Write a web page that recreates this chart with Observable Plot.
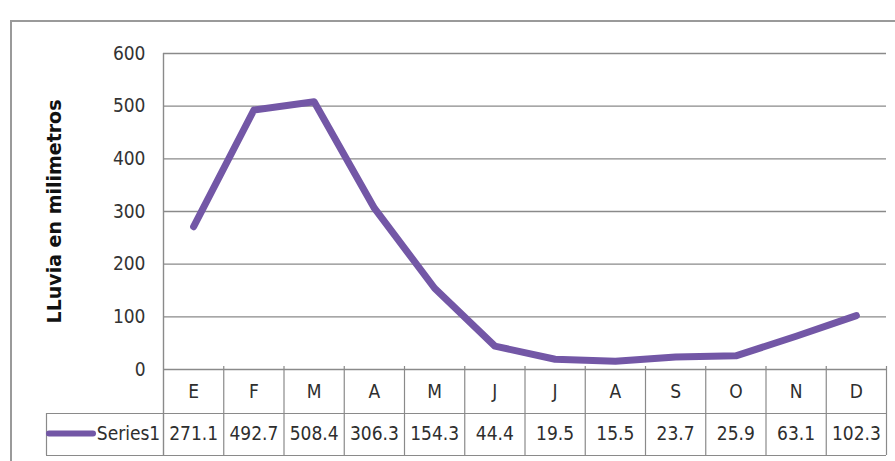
<!DOCTYPE html>
<html>
<head>
<meta charset="utf-8">
<script src="https://cdn.jsdelivr.net/npm/d3@7"></script>
<script src="https://cdn.jsdelivr.net/npm/@observablehq/plot@0.6"></script>
<style>
  html, body { margin: 0; padding: 0; background: #fff; }
  #wrap { position: relative; width: 895px; height: 461px; overflow: hidden; }
  #border { position: absolute; left: 10px; top: 20px; width: 960px; height: 600px; border: 2px solid #9a9a9a; box-sizing: border-box; pointer-events: none; }
  #chart { position: absolute; left: 0; top: 0; }
</style>
</head>
<body>
<div id="wrap"><div id="chart"></div><div id="border"></div></div>
<script>
// Data
const months = ["E", "F", "M", "A", "M", "J", "J", "A", "S", "O", "N", "D"];
const rainfall = [271.1, 492.7, 508.4, 306.3, 154.3, 44.4, 19.5, 15.5, 23.7, 25.9, 63.1, 102.3];
const valueLabels = ["271.1", "492.7", "508.4", "306.3", "154.3", "44.4", "19.5", "15.5", "23.7", "25.9", "63.1", "102.3"];
const yTicks = [0, 100, 200, 300, 400, 500, 600];
const seriesName = "Series1";
const yTitle = "LLuvia en milimetros";

const table = months.map((m, i) => ({i, m, v: rainfall[i], label: valueLabels[i], base: 0}));
const boundaries = d3.range(0.5, months.length, 1);

const purple = "#7357a6";
const grid = "#8a8a8a";
const font = "'DejaVu Sans Condensed', 'Liberation Sans', sans-serif";
const ink = "#2e2e2e";

const chart = Plot.plot({
  width: 895,
  height: 461,
  marginLeft: 163,
  marginRight: 9,
  marginTop: 53,
  marginBottom: 92,
  style: {fontFamily: font, background: "transparent"},
  x: {type: "linear", domain: [-0.5, months.length - 0.5], axis: null},
  y: {domain: [0, 600], axis: null},
  marks: [
    // horizontal gridlines
    Plot.ruleY(yTicks, {stroke: grid, strokeWidth: 1.4}),
    // left edge of plot area, continuing through table
    Plot.ruleX([-0.5], {stroke: grid, strokeWidth: 1.4, insetBottom: -86}),
    // table column separators
    Plot.ruleX(boundaries, {stroke: grid, strokeWidth: 1.2, insetTop: 313, insetBottom: -86}),
    // table horizontal lines
    Plot.ruleY([0], {stroke: grid, strokeWidth: 1.2, dy: 44, insetLeft: -117}),
    Plot.ruleY([0], {stroke: grid, strokeWidth: 1.2, dy: 86, insetLeft: -117}),
    // left edge of legend cell
    Plot.ruleX([-0.5], {stroke: grid, strokeWidth: 1.2, dx: -117, insetTop: 360, insetBottom: -86}),
    // legend key
    Plot.ruleY([0], {x1: -0.5, x2: -0.5, dy: 64, insetLeft: -114, insetRight: 70, stroke: purple, strokeWidth: 6, strokeLinecap: "round"}),
    Plot.text([seriesName], {x: -0.5, y: 0, dx: -35, dy: 64, fontSize: 19, fill: ink}),
    // category labels
    Plot.text(table, {x: "i", y: "base", text: "m", dy: 22, fontSize: 19, fill: ink}),
    // value labels
    Plot.text(table, {x: "i", y: "base", text: "label", dy: 64, fontSize: 19, fill: ink}),
    // y axis
    Plot.axisY({ticks: yTicks, tickSize: 0, tickPadding: 18, fontSize: 19, label: null, color: "#333"}),
    // y axis title
    Plot.text([yTitle], {frameAnchor: "left", textAnchor: "middle", dx: -109, rotate: -90, fontSize: 19, fontWeight: "bold", fontFamily: "'DejaVu Sans', sans-serif", fill: "#111"}),
    // data line
    Plot.line(table, {x: "i", y: "v", stroke: purple, strokeWidth: 7, strokeLinejoin: "round", strokeLinecap: "round"})
  ]
});
document.getElementById("chart").appendChild(chart);
</script>
</body>
</html>
